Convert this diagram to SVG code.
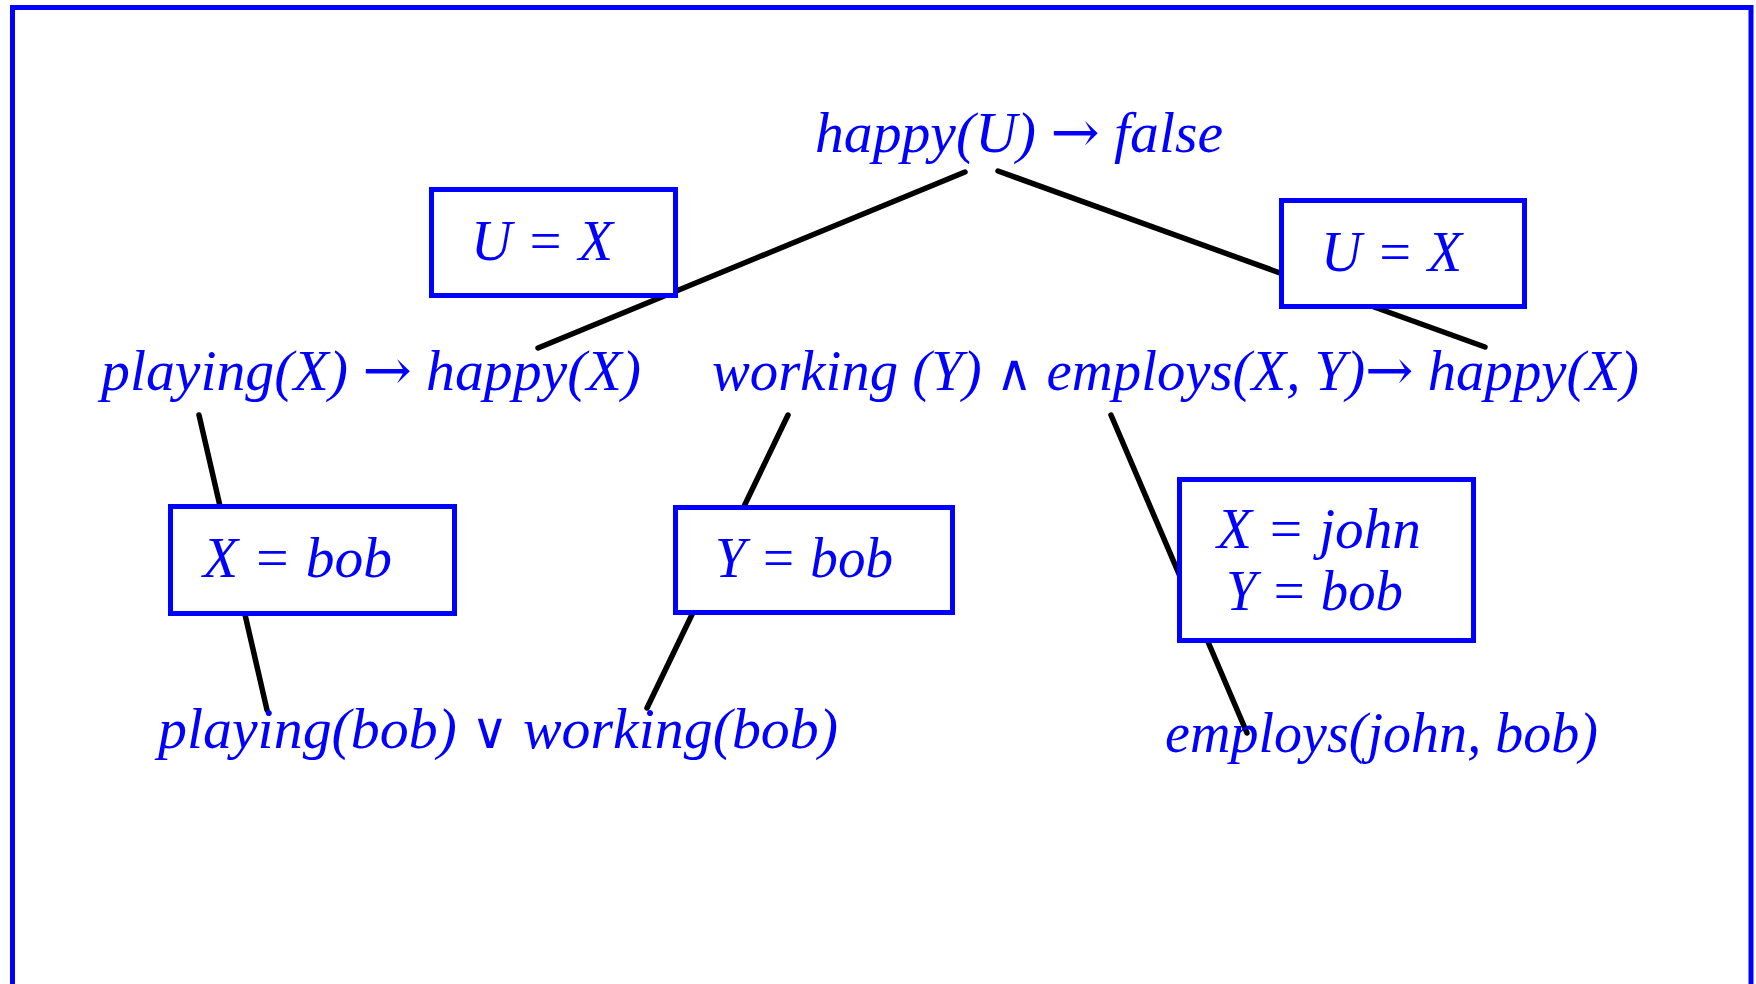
<svg xmlns="http://www.w3.org/2000/svg" width="1756" height="984" viewBox="0 0 1756 984">
<style>
.t{font-family:"Liberation Serif","Times New Roman",serif;font-style:italic;font-size:57px;fill:#0000FF}
.ar{font-family:"DejaVu Serif",serif;font-style:normal;font-size:58px}
.op{font-family:"DejaVu Serif",serif;font-style:normal;font-size:50px}
.box{fill:#FFFFFF;stroke:#0000FF;stroke-width:5}
.edge{stroke:#000000;stroke-width:5.5;stroke-linecap:round;fill:none}
</style>
<rect x="0" y="0" width="1756" height="984" fill="#FFFFFF"/>
<rect x="12.5" y="7.5" width="1738.5" height="1000" fill="none" stroke="#0000FF" stroke-width="5"/>
<g id="connectors">
<line class="edge" x1="965" y1="172" x2="538" y2="348"/>
<line class="edge" x1="998" y1="171" x2="1485" y2="347"/>
<line class="edge" x1="199" y1="415" x2="267" y2="710"/>
<line class="edge" x1="788" y1="415" x2="647" y2="708"/>
<line class="edge" x1="1111" y1="415" x2="1247" y2="733"/>
</g>
<g id="root"><text class="t" x="815" y="152" textLength="408" lengthAdjust="spacingAndGlyphs">happy(U) <tspan class="ar">→</tspan> false</text></g>
<g id="clause1"><text class="t" x="101" y="390" textLength="540" lengthAdjust="spacingAndGlyphs">playing(X) <tspan class="ar">→</tspan> happy(X)</text></g>
<g id="clause2"><text class="t" x="712" y="390" textLength="927" lengthAdjust="spacingAndGlyphs">working (Y)  <tspan class="op">∧</tspan> employs(X, Y)<tspan class="ar">→</tspan> happy(X)</text></g>
<g id="fact1"><text class="t" x="158" y="748" textLength="680" lengthAdjust="spacingAndGlyphs">playing(bob)  <tspan class="op">∨</tspan>  working(bob)</text></g>
<g id="fact2"><text class="t" x="1165" y="752" textLength="433" lengthAdjust="spacingAndGlyphs">employs(john, bob)</text></g>
<g id="sub1"><rect class="box" x="431.5" y="189.5" width="244" height="106"/><text class="t" x="471" y="260" textLength="142" lengthAdjust="spacingAndGlyphs">U = X</text></g>
<g id="sub2"><rect class="box" x="1281.5" y="200.5" width="243" height="106"/><text class="t" x="1321" y="271" textLength="141" lengthAdjust="spacingAndGlyphs">U = X</text></g>
<g id="sub3"><rect class="box" x="170.5" y="506.5" width="284" height="107"/><text class="t" x="203" y="577" textLength="189" lengthAdjust="spacingAndGlyphs">X = bob</text></g>
<g id="sub4"><rect class="box" x="675.5" y="507.5" width="277" height="105"/><text class="t" x="715" y="577" textLength="178" lengthAdjust="spacingAndGlyphs">Y = bob</text></g>
<g id="sub5"><rect class="box" x="1179.5" y="479.5" width="294" height="161"/><text class="t" x="1217" y="548" textLength="204" lengthAdjust="spacingAndGlyphs">X = john</text><text class="t" x="1226" y="610" textLength="177" lengthAdjust="spacingAndGlyphs">Y = bob</text></g>
</svg>
